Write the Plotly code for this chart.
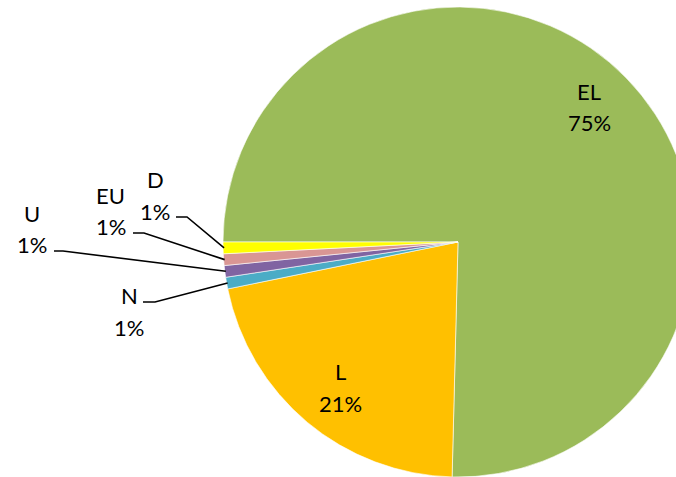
import math
import plotly.graph_objects as go

# ---- data ----
labels = ["EL", "L", "N", "U", "EU", "D"]
values = [75.4, 21.4, 0.8, 0.8, 0.8, 0.8]
colors = ["#9BBB59", "#FFC000", "#4BACC6", "#8064A2", "#D99694", "#FFFF00"]

# figure is wider than the 676px window so the pie runs off the right edge
OFF = 0
W, H = 700, 477
FONT = "Lato"
FS = 22

# pie placement in figure pixels: centre (458, 242), radius 235
PCX, PCY, PR = 458, 242, 235
dom_x = [(PCX - PR) / W, (PCX + PR) / W]
dom_y = [1 - (PCY + PR) / H, 1 - (PCY - PR) / H]
ROT = 270  # first slice starts at 9 o'clock, clockwise

fig = go.Figure(go.Pie(
    labels=labels, values=values, sort=False, direction="clockwise",
    rotation=ROT, marker=dict(colors=colors, line=dict(color="white", width=0.6)),
    textinfo="none", hoverinfo="label+percent",
    domain=dict(x=dom_x, y=dom_y), showlegend=False,
))

# pie geometry as plotly computes it (window pixels)
dw = (dom_x[1] - dom_x[0]) * W
dh = (dom_y[1] - dom_y[0]) * H
R = min(dw, dh) / 2
cx = (dom_x[0] + dom_x[1]) / 2 * W + OFF
cy = H - (dom_y[0] + dom_y[1]) / 2 * H + OFF

total = sum(values)
pct = [round(v / total * 100) for v in values]

# mid angles (deg clockwise from 12 o'clock)
mids = []
acc = ROT
for v in values:
    span = v / total * 360
    mids.append(acc + span / 2)
    acc += span

def pt(angle, r):
    a = math.radians(angle)
    return cx + r * math.sin(a), cy - r * math.cos(a)

def px2paper(x, y):
    return (x - OFF) / W, 1 - (y - OFF) / H

annotations = []
shapes = []

def add_label(i, x, y):
    for txt, yy in ((labels[i], y), (f"{pct[i]}%", y + 32)):
        lx, ly = px2paper(x, yy + 1)
        annotations.append(dict(x=lx, y=ly, xref="paper", yref="paper", text=txt,
                                xanchor="center", yanchor="middle", showarrow=False,
                                font=dict(family=FONT, size=FS, color="black")))

# label positions (window px)
label_pos = {0: (589, 90), 1: (340, 370), 2: (129, 294), 3: (32, 212), 4: (111, 194), 5: (155, 178)}
for i, (x, y) in label_pos.items():
    add_label(i, x, y)

# leader lines for the small slices: start and elbow (window px), end on the pie edge
leaders = {
    2: ((143, 302), (155, 302)),
    3: ((54, 251), (63, 251)),
    4: ((133, 233), (144, 233)),
    5: ((176, 217), (187, 217)),
}
for i, (p0, p1) in leaders.items():
    ex, ey = pt(mids[i], R - 1)
    pts = [p0, p1, (ex, ey)]
    path = "M " + " L ".join("{:.5f},{:.5f}".format(*px2paper(x, y)) for x, y in pts)
    shapes.append(dict(type="path", xref="paper", yref="paper", path=path,
                       line=dict(color="black", width=1.6)))

fig.update_layout(
    width=W, height=H, margin=dict(l=0, r=0, t=0, b=0),
    paper_bgcolor="white", plot_bgcolor="white",
    annotations=annotations, shapes=shapes,
    font=dict(family=FONT, size=FS),
)

fig.write_html(
    "out.html",
    config={"displayModeBar": False},
    post_script=(
        "document.documentElement.style.overflow='hidden';"
        "document.body.style.overflow='hidden';"
        "document.body.style.margin='0';"
    ),
)
